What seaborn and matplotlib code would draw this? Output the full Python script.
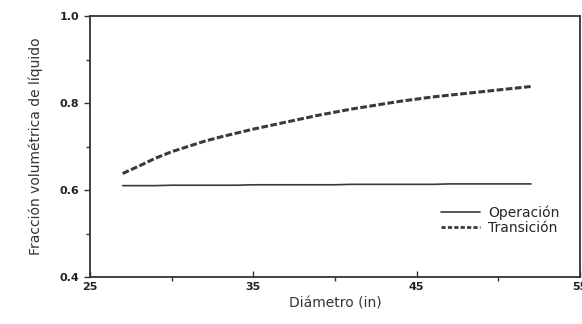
import matplotlib
matplotlib.use("Agg")
import matplotlib.pyplot as plt
import numpy as np
import pandas as pd
import seaborn as sns

diametro = [27, 28, 29, 30, 31, 32, 33, 34, 35, 36, 37, 38, 39,
            40, 41, 42, 43, 44, 45, 46, 47, 48, 49, 50, 51, 52]
operacion = [0.610, 0.610, 0.610, 0.611, 0.611, 0.611, 0.611, 0.611, 0.612,
             0.612, 0.612, 0.612, 0.612, 0.612, 0.613, 0.613, 0.613, 0.613,
             0.613, 0.613, 0.614, 0.614, 0.614, 0.614, 0.614, 0.614]
transicion = [0.638, 0.655, 0.673, 0.688, 0.700, 0.712, 0.722, 0.731, 0.740,
              0.748, 0.756, 0.764, 0.772, 0.779, 0.786, 0.792, 0.798, 0.804,
              0.809, 0.814, 0.818, 0.822, 0.826, 0.830, 0.834, 0.838]

sns.set_theme(style="ticks")
plt.rcParams["font.family"] = ["DejaVu Sans"]

df = pd.DataFrame({"Diámetro": diametro, "Operación": operacion, "Transición": transicion})
long_df = df.melt(id_vars="Diámetro", var_name="serie", value_name="fraccion")

fig = plt.figure(figsize=(5.82, 3.24), dpi=100)
ax = fig.add_axes([90 / 582, 47 / 324, 490 / 582, 261 / 324])

line_color = "#3a3a3a"
sns.lineplot(data=long_df, x="Diámetro", y="fraccion", style="serie",
             dashes={"Operación": "", "Transición": (2.2, 0.8)},
             color=line_color, ax=ax, legend=False)
ax.lines[0].set_linewidth(1.2)
ax.lines[0].set_snap(False)
ax.lines[1].set_linewidth(2.2)

ax.plot([], [], color=line_color, lw=1.2, label="Operación")
ax.plot([], [], color=line_color, lw=2.0, ls=(0, (1.5, 0.8)), label="Transición")
ax.legend(loc="lower right", bbox_to_anchor=(0.97, 0.14), frameon=False,
          fontsize=10, handlelength=2.8, handletextpad=0.6, labelspacing=0.05,
          borderaxespad=0)

ax.set_xlim(25, 55)
ax.set_ylim(0.4, 1.0)
ax.set_xticks([25, 35, 45, 55])
ax.set_xticks([30, 40, 50], minor=True)
ax.set_yticks([0.4, 0.6, 0.8, 1.0])
ax.set_yticks([0.5, 0.7, 0.9], minor=True)
ax.set_yticklabels(["0.4", "0.6", "0.8", "1.0"])
ax.tick_params(axis="both", which="major", labelsize=8, length=4, width=1,
               color="#333333", labelcolor="#222222")
ax.tick_params(axis="both", which="minor", length=3, width=1, color="#333333")
ax.tick_params(axis="x", direction="in")
for lbl in ax.get_xticklabels() + ax.get_yticklabels():
    lbl.set_fontweight("bold")

for spine in ax.spines.values():
    spine.set_visible(True)
    spine.set_color("#333333")
    spine.set_linewidth(1.3)

ax.set_xlabel("Diámetro (in)", fontsize=10, color="#333333", labelpad=3)
ax.set_ylabel("Fracción volumétrica de líquido", fontsize=10, color="#333333", labelpad=12)

fig.savefig("out.png", dpi=100)
plt.close(fig)
